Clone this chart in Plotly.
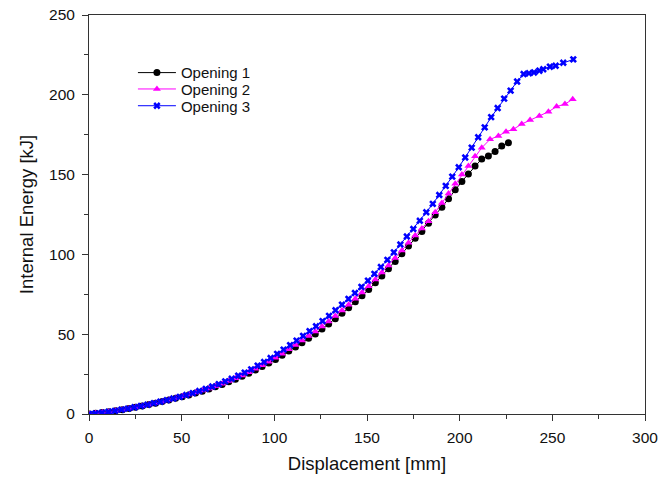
import plotly.graph_objects as go

# Displacement [mm] and internal energy [kJ] for each opening
disp_opening1 = [
    0.0, 3.6, 7.2, 10.8, 14.4, 18.0, 21.6, 25.1, 28.7, 32.3,
    35.9, 39.5, 43.1, 46.7, 50.3, 53.9, 57.5, 61.1, 64.7, 68.2,
    71.8, 75.4, 79.0, 82.6, 86.2, 89.8, 93.4, 97.0, 100.6, 104.2,
    107.8, 111.4, 114.9, 118.5, 122.1, 125.7, 129.3, 132.9, 136.5, 140.1,
    143.7, 147.3, 150.9, 154.5, 158.0, 161.6, 165.2, 168.8, 172.4, 176.0,
    179.6, 183.2, 186.8, 190.4, 194.0, 197.6, 201.2, 204.7, 208.3, 211.9,
    215.5, 219.1, 222.7, 226.3,
]
energy_opening1 = [
    0.0, 0.4, 0.9, 1.4, 2.1, 2.7, 3.4, 4.2, 5.0, 5.9,
    6.8, 7.8, 8.8, 9.8, 10.8, 11.9, 13.1, 14.3, 15.6, 17.0,
    18.5, 20.2, 21.8, 23.6, 25.5, 27.5, 29.7, 31.9, 34.2, 36.8,
    39.4, 42.0, 44.7, 47.4, 50.2, 53.3, 56.4, 59.7, 63.1, 66.6,
    70.3, 74.1, 78.0, 82.2, 86.5, 91.0, 95.6, 100.4, 105.2, 110.1,
    114.3, 119.5, 124.7, 129.6, 134.9, 140.5, 145.7, 150.4, 155.4, 159.8,
    161.7, 164.4, 167.9, 170.0,
]

disp_opening2 = [
    0.0, 3.6, 7.2, 10.8, 14.4, 18.0, 21.6, 25.1, 28.7, 32.3,
    35.9, 39.5, 43.1, 46.7, 50.3, 53.9, 57.5, 61.1, 64.7, 68.2,
    71.8, 75.4, 79.0, 82.6, 86.2, 89.8, 93.4, 97.0, 100.6, 104.2,
    107.8, 111.4, 114.9, 118.5, 122.1, 125.7, 129.3, 132.9, 136.5, 140.1,
    143.7, 147.3, 150.9, 154.5, 158.0, 161.6, 165.2, 168.8, 172.4, 176.0,
    179.6, 183.2, 186.8, 190.4, 194.0, 197.6, 201.2, 204.7, 208.3, 211.9,
    216.4, 220.9, 225.0, 229.0, 233.5, 238.0, 243.0, 247.9, 252.3, 256.8,
    261.0,
]
energy_opening2 = [
    0.0, 0.4, 0.9, 1.4, 2.1, 2.7, 3.4, 4.2, 5.0, 5.9,
    6.9, 7.9, 8.9, 10.0, 11.1, 12.2, 13.4, 14.7, 16.0, 17.4,
    19.0, 20.7, 22.4, 24.2, 26.2, 28.3, 30.5, 32.8, 35.2, 37.8,
    40.5, 43.2, 46.0, 48.8, 51.7, 54.8, 58.0, 61.4, 64.9, 68.5,
    72.2, 76.1, 80.1, 84.3, 88.6, 93.1, 97.7, 102.5, 107.3, 111.9,
    116.2, 120.8, 126.4, 132.2, 138.2, 144.2, 150.0, 155.4, 161.5, 166.8,
    172.1, 174.2, 176.9, 178.4, 181.7, 184.2, 186.7, 189.4, 192.6, 194.2,
    197.2,
]

disp_opening3 = [
    0.0, 3.5, 7.0, 10.5, 14.0, 17.5, 21.0, 24.5, 28.0, 31.5,
    35.0, 38.5, 42.0, 45.5, 49.0, 52.5, 56.0, 59.5, 63.0, 66.5,
    70.0, 73.5, 77.0, 80.5, 84.0, 87.5, 91.0, 94.5, 98.0, 101.5,
    105.0, 108.5, 112.0, 115.5, 119.0, 122.5, 126.0, 129.5, 133.0, 136.5,
    140.0, 143.5, 147.0, 150.5, 154.0, 157.5, 161.0, 164.5, 168.0, 171.5,
    175.0, 178.5, 182.0, 185.5, 189.0, 192.5, 196.0, 199.5, 203.0, 206.5,
    210.0, 213.5, 217.0, 220.5, 224.0, 227.5, 231.0, 234.5, 237.4, 240.1,
    243.0, 245.1, 248.7, 251.8, 255.9, 261.3,
]
energy_opening3 = [
    0.0, 0.4, 0.9, 1.4, 2.0, 2.7, 3.4, 4.2, 5.0, 5.8,
    6.8, 7.7, 8.7, 9.7, 10.7, 11.9, 13.1, 14.4, 15.7, 17.2,
    18.7, 20.4, 22.1, 24.0, 25.9, 28.0, 30.3, 32.6, 35.1, 37.7,
    40.3, 43.1, 46.0, 48.9, 51.9, 55.0, 58.2, 61.5, 65.0, 68.5,
    72.1, 75.8, 79.6, 83.6, 87.8, 92.1, 96.6, 101.3, 106.2, 111.2,
    115.9, 121.1, 126.4, 131.7, 137.2, 142.9, 148.7, 154.6, 160.7, 166.9,
    173.4, 179.6, 186.0, 191.7, 197.6, 202.6, 208.3, 213.0, 213.5, 214.0,
    215.1, 216.0, 217.6, 218.2, 220.1, 222.2,
]

series_names = ["Opening 1", "Opening 2", "Opening 3"]
x_ticks = [0, 50, 100, 150, 200, 250, 300]
y_ticks = [0, 50, 100, 150, 200, 250]

FONT = "Liberation Sans, Arial, sans-serif"
TEXT = "#111111"
AXIS = "#333333"

fig = go.Figure()
styles = [
    dict(color="black", symbol="circle", size=7),
    dict(color="#ff00ff", symbol="triangle-up", size=7),
    dict(color="#0000ff", symbol="x", size=6.5),
]
data = [
    (disp_opening1, energy_opening1),
    (disp_opening2, energy_opening2),
    (disp_opening3, energy_opening3),
]
# one legend box per series so the entries can be stacked tightly
legend_ids = ["legend", "legend2", "legend3"]
for name, (xs, ys), st, lg in zip(series_names, data, styles, legend_ids):
    fig.add_trace(go.Scatter(
        x=xs, y=ys, name=name, mode="lines+markers", legend=lg,
        line=dict(color=st["color"], width=1),
        marker=dict(color=st["color"], symbol=st["symbol"], size=st["size"],
                    line=dict(width=0)),
    ))

axis_common = dict(
    showgrid=False, zeroline=False, automargin=False,
    showline=True, linecolor=AXIS, linewidth=1, mirror=True,
    ticks="outside", ticklen=6, tickwidth=1, tickcolor=AXIS,
    tickfont=dict(family=FONT, size=15.5, color=TEXT),
    minor=dict(ticks="outside", ticklen=4, tickwidth=1, tickcolor=AXIS, dtick=25),
)

fig.update_xaxes(
    range=[0, 300], tickvals=x_ticks, ticktext=[str(v) for v in x_ticks],
    ticklabelstandoff=3,
    title=dict(text="Displacement [mm]", font=dict(family=FONT, size=18.5, color=TEXT),
               standoff=12),
    **axis_common,
)
fig.update_yaxes(
    range=[0, 250], tickvals=y_ticks, ticktext=[str(v) for v in y_ticks],
    ticklabelstandoff=4,
    title=dict(text="Internal Energy [kJ]", font=dict(family=FONT, size=18.5, color=TEXT),
               standoff=10),
    **axis_common,
)

legend_style = dict(
    xanchor="left", yanchor="middle",
    bgcolor="rgba(0,0,0,0)", borderwidth=0,
    font=dict(family=FONT, size=15, color=TEXT),
    itemwidth=38,
)
fig.update_layout(
    width=672, height=481,
    margin=dict(l=89, r=27, t=15, b=67),
    plot_bgcolor="white", paper_bgcolor="white",
    font=dict(family=FONT, size=15, color=TEXT),
    showlegend=True,
    legend=dict(x=0.079, y=0.855, **legend_style),
    legend2=dict(x=0.079, y=0.814, **legend_style),
    legend3=dict(x=0.079, y=0.772, **legend_style),
)

fig.write_html("out.html")
